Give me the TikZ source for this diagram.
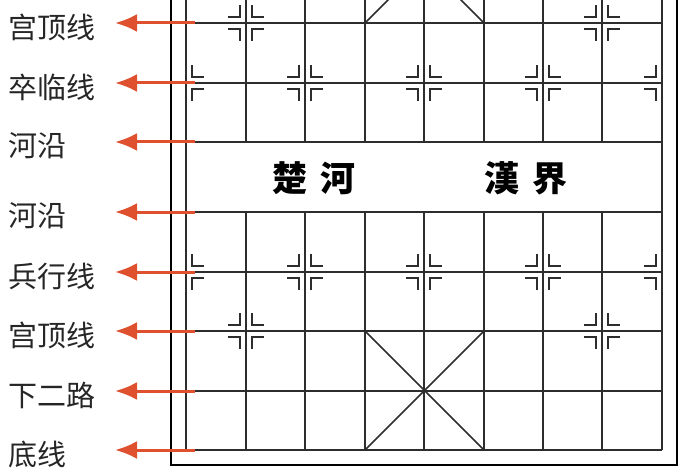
\documentclass[tikz,border=0pt]{standalone}
\usepackage{fontspec}
\newfontfamily\cjk{Noto Sans CJK SC}
\usetikzlibrary{positioning}
\usetikzlibrary{calc}
\usetikzlibrary{arrows.meta}
\definecolor{brick}{RGB}{222,80,46}
\definecolor{ink}{RGB}{45,45,45}

% corner marks at a point: #1 x, #2 y, #3 sides (-1 left, 1 right)
\newcommand{\stationmark}[3]{%
  \foreach \sx in {#3}{\foreach \sy in {-1,1}{%
    \draw[cornermark] (#1+\sx*18,#2+\sy*6) -- (#1+\sx*6,#2+\sy*6) -- (#1+\sx*6,#2+\sy*18);}}}

\begin{document}
\begin{tikzpicture}[
    x=1pt, y=-1pt,
    >={Latex[length=22pt,width=18pt]},
    % node styles
    lbl/.style = {
      anchor=west,
      inner sep=0pt,
      font=\cjk\fontsize{29}{29}\selectfont,
      text=black!85
    },
    river/.style = {
      inner sep=0pt,
      font=\cjk\bfseries\fontsize{35}{35}\selectfont,
      text=black
    },
    % line styles
    gridline/.style = {line width=1.5pt, draw=ink},
    cornermark/.style = {line width=1.5pt, draw=ink},
    frame/.style = {line width=2.5pt, draw=black},
    arr/.style = {->, line width=3pt, draw=brick}
  ]
  \useasboundingbox (0,0) rectangle (700,470);
  \clip (0,0) rectangle (700,470);

  % --- Board
  \draw[frame] (171,-100) rectangle (677,465);
  \foreach \y in {23,83,142,212,272,331,391,450}
    \draw[gridline] (186,\y) -- (662,\y);
  \draw[gridline] (186,-100) -- (186,450);
  \draw[gridline] (662,-100) -- (662,450);
  \foreach \x in {246,305,365,424,484,543,602}{
    \draw[gridline] (\x,-100) -- (\x,142);
    \draw[gridline] (\x,212) -- (\x,450);
  }
  % palaces
  \draw[gridline] (365,23) -- (484,-96) (484,23) -- (365,-96);
  \draw[gridline] (365,331) -- (484,450) (484,331) -- (365,450);

  % --- Marks
  \stationmark{246}{23}{-1,1}
  \stationmark{602}{23}{-1,1}
  \stationmark{246}{331}{-1,1}
  \stationmark{602}{331}{-1,1}
  \foreach \y in {83,272}{
    \stationmark{186}{\y}{1}
    \stationmark{305}{\y}{-1,1}
    \stationmark{424}{\y}{-1,1}
    \stationmark{543}{\y}{-1,1}
    \stationmark{662}{\y}{-1}
  }

  % --- River
  \node[river] (chu) at (314,178) {楚\hspace{13pt}河};
  \node[river] (han) at (526,178) {漢\hspace{13pt}界};

  % --- Labels and arrows
  \foreach \y/\t [count=\i] in {23/宫顶线, 83/卒临线, 142/河沿, 212/河沿,
      272/兵行线, 331/宫顶线, 391/下二路, 450/底线}{
    \node[lbl] (lab\i) at (8,\y+4) {\t};
    \coordinate (tail\i) at (195,\y);
    \coordinate (tip\i) at (115,\y);
    \draw[arr] (tail\i) -- (tip\i);
  }

\end{tikzpicture}
\end{document}
